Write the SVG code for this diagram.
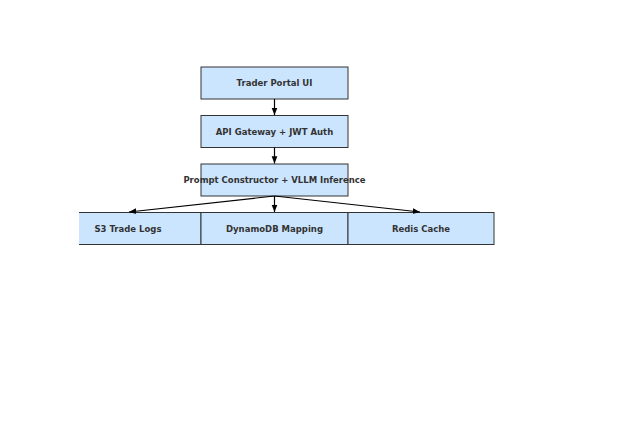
<svg xmlns="http://www.w3.org/2000/svg" width="631" height="421" viewBox="0 0 631 421">
<style>
.b{fill:#cce5ff;stroke:#333;stroke-width:1}
.t{font-family:"DejaVu Sans",sans-serif;font-weight:bold;font-size:8.5px;fill:#333;text-anchor:middle}
.c{stroke:#000;stroke-width:1.2;fill:none;marker-end:url(#a)}
</style>
<defs>
<marker id="a" viewBox="0 0 10 10" refX="10" refY="5" markerWidth="6" markerHeight="6" orient="auto"><path d="M0,1L10,5L0,9z" fill="#000"/></marker>
<clipPath id="cl"><rect x="79" y="0" width="600" height="421"/></clipPath>
</defs>
<rect width="631" height="421" fill="#fff"/>
<g id="n1"><rect class="b" x="201" y="67" width="147" height="32"/><text class="t" x="274.5" y="86">Trader Portal UI</text></g>
<g id="n2"><rect class="b" x="201" y="115.5" width="147" height="32"/><text class="t" x="274.5" y="134.5">API Gateway + JWT Auth</text></g>
<g id="n3"><rect class="b" x="201" y="164" width="147" height="32"/><text class="t" x="274.5" y="183">Prompt Constructor + VLLM Inference</text></g>
<g id="n4" clip-path="url(#cl)"><rect class="b" x="55" y="212.5" width="146" height="32"/><text class="t" x="128" y="231.5">S3 Trade Logs</text></g>
<g id="n5"><rect class="b" x="201" y="212.5" width="147" height="32"/><text class="t" x="274.5" y="231.5">DynamoDB Mapping</text></g>
<g id="n6"><rect class="b" x="348" y="212.5" width="146" height="32"/><text class="t" x="421" y="231.5">Redis Cache</text></g>
<g id="connectors">
<line class="c" x1="274.5" y1="99" x2="274.5" y2="115"/>
<line class="c" x1="274.5" y1="147.5" x2="274.5" y2="163.5"/>
<line class="c" x1="274.5" y1="196" x2="274.5" y2="212"/>
<line class="c" x1="274.5" y1="196" x2="129" y2="212"/>
<line class="c" x1="274.5" y1="196" x2="420" y2="212"/>
</g>
</svg>
